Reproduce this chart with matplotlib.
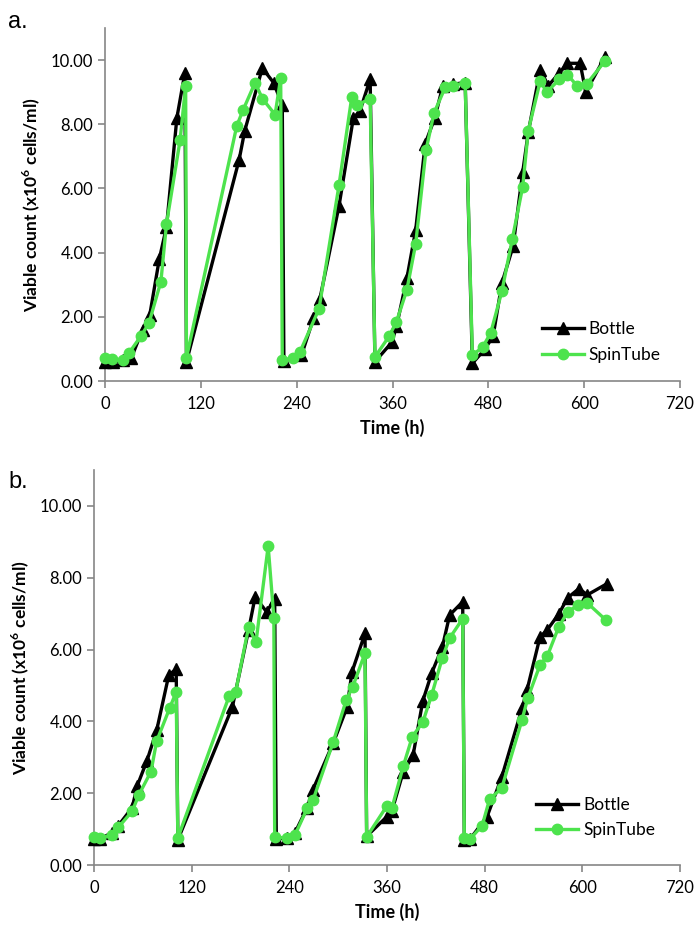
import numpy as np
import matplotlib
matplotlib.use('Agg')
import matplotlib.pyplot as plt

plt.rcParams['font.family'] = ['Lato', 'DejaVu Sans']
plt.rcParams['mathtext.fontset'] = 'custom'
plt.rcParams['mathtext.rm'] = 'Lato'
plt.rcParams['mathtext.bf'] = 'Lato:bold'

# Panel a - Bottle
a_bottle_t = [0, 10, 23, 33, 47, 56, 68, 77, 90, 100,
              102, 168, 175, 197, 211, 222,
              224, 246, 261, 269, 293, 311, 319, 332,
              338, 359, 365, 378, 389, 401, 413, 423, 436, 451,
              460, 476, 486, 497, 511, 523, 530, 545, 555, 569, 579, 595, 602, 626]
a_bottle_v = [0.60, 0.58, 0.65, 0.72, 1.60, 2.05, 3.80, 4.80, 8.20, 9.60,
              0.60, 6.90, 7.80, 9.75, 9.30, 8.60,
              0.62, 0.80, 1.95, 2.55, 5.45, 8.20, 8.40, 9.40,
              0.60, 1.20, 1.70, 3.20, 4.70, 7.40, 8.20, 9.20, 9.25, 9.30,
              0.55, 1.00, 1.40, 3.05, 4.20, 6.50, 7.75, 9.70, 9.20, 9.60, 9.90, 9.90, 9.00, 10.10]

# Panel a - SpinTube
a_spin_t = [0, 9, 23, 30, 45, 55, 70, 77, 94, 101,
            102, 165, 173, 188, 197, 213, 220,
            222, 236, 244, 268, 293, 309, 316, 332,
            338, 356, 365, 378, 389, 402, 412, 426, 436, 451,
            460, 473, 483, 497, 510, 523, 530, 545, 553, 569, 579, 591, 603, 626]
a_spin_v = [0.72, 0.70, 0.65, 0.87, 1.40, 1.80, 3.10, 4.90, 7.50, 9.20,
            0.72, 7.95, 8.45, 9.30, 8.80, 8.30, 9.45,
            0.65, 0.72, 0.90, 2.25, 6.10, 8.85, 8.60, 8.80,
            0.75, 1.40, 1.85, 2.84, 4.27, 7.20, 8.35, 9.15, 9.20, 9.30,
            0.80, 1.06, 1.50, 2.80, 4.42, 6.05, 7.80, 9.35, 9.00, 9.40, 9.55, 9.20, 9.25, 9.97]

# Panel b - Bottle
b_bottle_t = [0, 7, 22, 30, 47, 53, 65, 77, 92, 101,
              103, 170, 190, 198, 212, 222,
              224, 237, 247, 262, 269, 294, 311, 317, 333,
              335, 360, 366, 380, 392, 404, 415, 428, 437, 453,
              455, 462, 483, 501, 526, 532, 548, 557, 571, 582, 596, 606, 630]
b_bottle_v = [0.72, 0.72, 0.90, 1.10, 1.60, 2.20, 2.90, 3.75, 5.30, 5.45,
              0.70, 4.40, 6.55, 7.47, 7.05, 7.40,
              0.72, 0.75, 0.90, 1.60, 2.10, 3.40, 4.40, 5.38, 6.45,
              0.80, 1.35, 1.50, 2.60, 3.05, 4.57, 5.35, 6.07, 6.96, 7.33,
              0.70, 0.72, 1.35, 2.45, 4.37, 4.87, 6.35, 6.55, 6.99, 7.44, 7.70, 7.52, 7.83]

# Panel b - SpinTube
b_spin_t = [0, 7, 22, 30, 47, 55, 70, 77, 93, 101,
            103, 166, 174, 190, 199, 214, 221,
            222, 237, 247, 262, 269, 294, 310, 318, 333,
            335, 360, 366, 380, 391, 404, 415, 428, 437, 453,
            455, 462, 477, 486, 501, 526, 533, 548, 557, 571, 582, 595, 606, 629]
b_spin_v = [0.78, 0.75, 0.84, 1.05, 1.50, 1.95, 2.60, 3.45, 4.37, 4.82,
            0.75, 4.70, 4.82, 6.63, 6.20, 8.88, 6.88,
            0.78, 0.75, 0.84, 1.58, 1.80, 3.43, 4.60, 4.97, 5.90,
            0.78, 1.65, 1.58, 2.75, 3.57, 3.98, 4.74, 5.77, 6.32, 6.86,
            0.75, 0.72, 1.10, 1.83, 2.14, 4.05, 4.65, 5.57, 5.82, 6.63, 7.05, 7.24, 7.30, 6.82]

x_ticks = [0, 120, 240, 360, 480, 600, 720]
y_ticks = [0, 2, 4, 6, 8, 10]

green = '#4de34d'
axis_grey = '#868686'

fig = plt.figure(figsize=(6.94, 9.38), dpi=100)

W, H = 694.0, 938.0
# axes rectangles in pixel terms: (left, top, right, bottom)
rect_a = (105, 28, 680, 381)
rect_b = (94, 470, 680, 865)


def make_axes(r):
    l, t, rr, b = r
    return fig.add_axes([l / W, 1 - b / H, (rr - l) / W, (b - t) / H])


def draw_panel(ax, bt, bv, st, sv, legend_pos):
    ax.plot(bt, bv, color='black', lw=2.4, marker='^', ms=9,
            label='Bottle', zorder=3, clip_on=False)
    ax.plot(st, sv, color=green, lw=2.4, marker='o', ms=7.5,
            label='SpinTube', zorder=4, clip_on=False)
    ax.set_xlim(0, 720)
    ax.set_ylim(0, 11)
    ax.set_xticks(x_ticks)
    ax.set_yticks(y_ticks)
    ax.set_yticklabels(['%.2f' % v for v in y_ticks])
    for s in ['top', 'right']:
        ax.spines[s].set_visible(False)
    for s in ['left', 'bottom']:
        ax.spines[s].set_color(axis_grey)
        ax.spines[s].set_linewidth(1.2)
    ax.tick_params(axis='both', direction='out', length=5, width=1.2,
                   color=axis_grey, labelsize=12, labelcolor='black')
    ax.tick_params(axis='x', pad=6)
    ax.set_xlabel('Time (h)', fontsize=13, fontweight='bold', labelpad=5)
    ax.set_ylabel(r'Viable count (x10$^{\mathbf{6}}$ cells/ml)', fontsize=12.5,
                  fontweight='bold', labelpad=6)
    ax.legend(loc='center left', bbox_to_anchor=legend_pos, frameon=False,
              fontsize=12.5, handlelength=2.4, handletextpad=0.3,
              labelspacing=0.55, borderpad=0, borderaxespad=0)


ax_a = make_axes(rect_a)
draw_panel(ax_a, a_bottle_t, a_bottle_v, a_spin_t, a_spin_v, (0.76, 0.11))
ax_b = make_axes(rect_b)
draw_panel(ax_b, b_bottle_t, b_bottle_v, b_spin_t, b_spin_v, (0.755, 0.12))

fig.text(8 / W, 1 - 22 / H, 'a.', fontsize=17, family='Liberation Sans', va='center')
fig.text(8 / W, 1 - 482 / H, 'b.', fontsize=17, family='Liberation Sans', va='center')

fig.savefig('out.png', dpi=100)
